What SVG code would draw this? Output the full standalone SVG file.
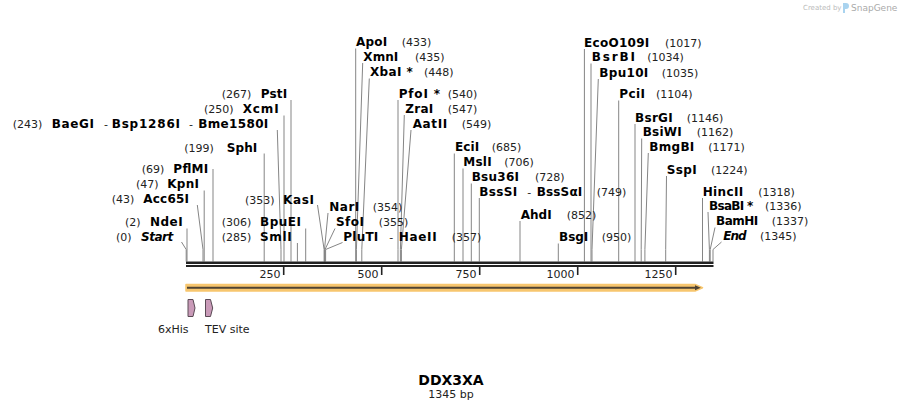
<svg xmlns="http://www.w3.org/2000/svg" width="901" height="411" viewBox="0 0 901 411">
<style>
.n{font-family:"DejaVu Sans",Verdana,sans-serif;font-size:11px;fill:#222}
.b{font-family:"DejaVu Sans",Verdana,sans-serif;font-size:12px;font-weight:bold;fill:#000}
.i{font-style:italic}
.t{font-family:"DejaVu Sans",Verdana,sans-serif;font-size:11px;fill:#222;text-anchor:end}
.c path{fill:none;stroke:#858585;stroke-width:1}
.tick{stroke:#222;stroke-width:1.6}
.feat{fill:#c99ab8;stroke:#5a4a55;stroke-width:1}
</style>
<rect width="901" height="411" fill="#fff"/>
<g id="logo">
<text x="803" y="10" font-family="'DejaVu Sans',sans-serif" font-size="7" fill="#bbb">Created by</text>
<path d="M843,3 h3 a3,3 0 0 1 0,6 h-1 v4 h-2 z" fill="#a9d3ef"/>
<text x="851" y="11" font-family="'DejaVu Sans',sans-serif" font-size="9" fill="#aaa">SnapGene</text>
</g>
<g id="connectors" class="c">
<path d="M181.5,242 L186.2,249.5 V261.5"/>
<path d="M187,228.5 V261.5"/>
<path d="M197.3,205 L203,249.5 V261.5"/>
<path d="M204.2,190.5 V261.5"/>
<path d="M213,169 V261.5"/>
<path d="M264.2,153.5 V261.5"/>
<path d="M277.3,130 L281,249.5 V261.5"/>
<path d="M284,115.5 V261.5"/>
<path d="M291,100 V261.5"/>
<path d="M297.4,243 V261.5"/>
<path d="M305.7,228.5 V261.5"/>
<path d="M317.5,205 L324.1,249.5 V261.5"/>
<path d="M328,213 L324.5,249.5 V261.5"/>
<path d="M335,228.5 L325,249.5 V261.5"/>
<path d="M342.5,242.5 L325.6,249.5 V261.5"/>
<path d="M355.7,48.5 V261.5"/>
<path d="M362.7,63 L356.4,249.5 V261.5"/>
<path d="M369.3,78.5 L361.8,249.5 V261.5"/>
<path d="M398,100 L398,249.5 V261.5"/>
<path d="M404.3,115 L400.4,249.5 V261.5"/>
<path d="M411,130 L401.4,249.5 V261.5"/>
<path d="M454.3,153.5 V261.5"/>
<path d="M463,168.5 V261.5"/>
<path d="M471.3,183.5 V261.5"/>
<path d="M479.3,198 V261.5"/>
<path d="M520,221 V261.5"/>
<path d="M558.3,243.5 V261.5"/>
<path d="M584.4,49 V261.5"/>
<path d="M591,63.5 V261.5"/>
<path d="M598.3,79 L592,249.5 V261.5"/>
<path d="M618.7,100.5 V261.5"/>
<path d="M635,124 V261.5"/>
<path d="M641.7,138.5 L641.2,249.5 V261.5"/>
<path d="M648.3,153 L644.9,249.5 V261.5"/>
<path d="M666.5,176 L665.7,249.5 V261.5"/>
<path d="M702.5,198 V261.5"/>
<path d="M708,212 L709.4,249.5 V261.5"/>
<path d="M715,227.5 L710.2,249.5 V261.5"/>
<path d="M721.5,242 L713,249.5 V261.5"/>
</g>
<g id="backbone">
<rect x="186" y="261.5" width="527.5" height="2.5" fill="#222"/>
<rect x="186" y="265" width="527.5" height="2" fill="#222"/>
<line class="tick" x1="283.7" y1="267" x2="283.7" y2="275"/>
<line class="tick" x1="381.7" y1="267" x2="381.7" y2="275"/>
<line class="tick" x1="479.7" y1="267" x2="479.7" y2="275"/>
<line class="tick" x1="577.7" y1="267" x2="577.7" y2="275"/>
<line class="tick" x1="675.7" y1="267" x2="675.7" y2="275"/>
<text class="t" x="280.5" y="277.5">250</text>
<text class="t" x="378.5" y="277.5">500</text>
<text class="t" x="476.5" y="277.5">750</text>
<text class="t" x="574.5" y="277.5">1000</text>
<text class="t" x="672.5" y="277.5">1250</text>
</g>
<g id="cds">
<path d="M186,284.5 H695 L702.5,287.8 L695,291 H186 Z" fill="#f7c66f" stroke="#f7c66f" stroke-width="1.5" stroke-linejoin="round"/>
<path d="M187,286.8 H695 V285.3 L700.8,287.8 L695,290.3 V288.8 H187 Z" fill="#4f4333"/>
</g>
<g id="f6xHis">
<path class="feat" d="M188,299.5 H193 L195,308 L193,316.5 H188 Z"/>
<text class="n" x="158" y="333">6xHis</text>
</g>
<g id="fTEV">
<path class="feat" d="M205.5,299.5 H210.5 L212.7,308 L210.5,316.5 H205.5 Z"/>
<text class="n" x="205" y="333">TEV site</text>
</g>
<g id="title">
<text x="451" y="385" text-anchor="middle" font-family="'DejaVu Sans',sans-serif" font-size="14" font-weight="bold" fill="#000">DDX3XA</text>
<text x="451" y="398" text-anchor="middle" class="n">1345 bp</text>
</g>
<g id="labels">
<g id="sStart"><text class="n" x="116" y="240.5">(0)</text><text class="b i" x="141" y="240.5" textLength="32.3">Start</text></g>
<g id="sNdeI"><text class="n" x="125" y="226">(2)</text><text class="b" x="150" y="226" textLength="32.7">NdeI</text></g>
<g id="sAcc65I"><text class="n" x="111.7" y="203">(43)</text><text class="b" x="143.3" y="203" textLength="45.7">Acc65I</text></g>
<g id="sKpnI"><text class="n" x="136" y="188">(47)</text><text class="b" x="167.3" y="188" textLength="31.7">KpnI</text></g>
<g id="sPflMI"><text class="n" x="141.7" y="172.5">(69)</text><text class="b" x="173.3" y="172.5" textLength="35">PflMI</text></g>
<g id="sSphI"><text class="n" x="184.3" y="151.5">(199)</text><text class="b" x="226.7" y="151.5" textLength="30.6">SphI</text></g>
<g id="sBme"><text class="n" x="12.7" y="127.5">(243)</text><text class="b" x="51.7" y="127.5" textLength="42.3">BaeGI</text><text class="n" x="104" y="127.5">-</text><text class="b" x="111.7" y="127.5" textLength="68.3">Bsp1286I</text><text class="n" x="189" y="127.5">-</text><text class="b" x="198.3" y="127.5" textLength="70">Bme1580I</text></g>
<g id="sXcmI"><text class="n" x="204" y="113">(250)</text><text class="b" x="242.7" y="113" textLength="36">XcmI</text></g>
<g id="sPstI"><text class="n" x="221.7" y="97.5">(267)</text><text class="b" x="260.7" y="97.5" textLength="26.6">PstI</text></g>
<g id="sSmlI"><text class="n" x="221.7" y="240.5">(285)</text><text class="b" x="260" y="240.5" textLength="31.7">SmlI</text></g>
<g id="sBpuEI"><text class="n" x="221.7" y="226">(306)</text><text class="b" x="260" y="226" textLength="41">BpuEI</text></g>
<g id="sKasI"><text class="n" x="245" y="203.5">(353)</text><text class="b" x="283" y="203.5" textLength="31">KasI</text></g>
<g id="sNarI"><text class="b" x="329.3" y="211" textLength="30">NarI</text><text class="n" x="372.7" y="211">(354)</text></g>
<g id="sSfoI"><text class="b" x="336" y="226" textLength="28">SfoI</text><text class="n" x="378.7" y="226">(355)</text></g>
<g id="sPluTI"><text class="b" x="343.3" y="240.5" textLength="35">PluTI</text><text class="n" x="389.3" y="240.5">-</text><text class="b" x="398.7" y="240.5" textLength="38">HaeII</text><text class="n" x="451.7" y="240.5">(357)</text></g>
<g id="sApoI"><text class="b" x="356" y="46" textLength="31.3">ApoI</text><text class="n" x="401.7" y="46">(433)</text></g>
<g id="sXmnI"><text class="b" x="363.3" y="60.5" textLength="35">XmnI</text><text class="n" x="415" y="60.5">(435)</text></g>
<g id="sXbaI"><text class="b" x="370" y="76" textLength="42.7">XbaI *</text><text class="n" x="424" y="76">(448)</text></g>
<g id="sPfoI"><text class="b" x="398.7" y="97.5" textLength="41.3">PfoI *</text><text class="n" x="447.7" y="97.5">(540)</text></g>
<g id="sZraI"><text class="b" x="405.3" y="112.5" textLength="28">ZraI</text><text class="n" x="447.7" y="112.5">(547)</text></g>
<g id="sAatII"><text class="b" x="412.7" y="127.5" textLength="34.6">AatII</text><text class="n" x="461.7" y="127.5">(549)</text></g>
<g id="sEciI"><text class="b" x="455" y="151" textLength="24.3">EciI</text><text class="n" x="491.7" y="151">(685)</text></g>
<g id="sMslI"><text class="b" x="463.3" y="166" textLength="28.4">MslI</text><text class="n" x="504.3" y="166">(706)</text></g>
<g id="sBsu36I"><text class="b" x="471.7" y="181" textLength="47.3">Bsu36I</text><text class="n" x="535" y="181">(728)</text></g>
<g id="sBssSI"><text class="b" x="479.3" y="195.5" textLength="38">BssSI</text><text class="n" x="527.3" y="195.5">-</text><text class="b" x="536.7" y="195.5" textLength="45.6">BssSαI</text><text class="n" x="596.7" y="195.5">(749)</text></g>
<g id="sAhdI"><text class="b" x="520.7" y="218.5" textLength="31">AhdI</text><text class="n" x="566.7" y="218.5">(852)</text></g>
<g id="sBsgI"><text class="b" x="559" y="241" textLength="29.3">BsgI</text><text class="n" x="601.7" y="241">(950)</text></g>
<g id="sEcoO109I"><text class="b" x="584" y="46.5" textLength="65.3">EcoO109I</text><text class="n" x="665" y="46.5">(1017)</text></g>
<g id="sBsrBI"><text class="b" x="591.7" y="61" textLength="43.3">BsrBI</text><text class="n" x="647.3" y="61">(1034)</text></g>
<g id="sBpu10I"><text class="b" x="599.3" y="76.5" textLength="49">Bpu10I</text><text class="n" x="661.7" y="76.5">(1035)</text></g>
<g id="sPciI"><text class="b" x="619.3" y="98" textLength="25.7">PciI</text><text class="n" x="656" y="98">(1104)</text></g>
<g id="sBsrGI"><text class="b" x="635" y="121.5" textLength="37.7">BsrGI</text><text class="n" x="686.7" y="121.5">(1146)</text></g>
<g id="sBsiWI"><text class="b" x="642.7" y="136" textLength="39">BsiWI</text><text class="n" x="696.7" y="136">(1162)</text></g>
<g id="sBmgBI"><text class="b" x="649.3" y="150.5" textLength="45">BmgBI</text><text class="n" x="708.3" y="150.5">(1171)</text></g>
<g id="sSspI"><text class="b" x="666.7" y="173.5" textLength="30">SspI</text><text class="n" x="711" y="173.5">(1224)</text></g>
<g id="sHincII"><text class="b" x="702.7" y="195.5" textLength="40.6">HincII</text><text class="n" x="758.3" y="195.5">(1318)</text></g>
<g id="sBsaBI"><text class="b" x="709" y="209.5" textLength="44.3">BsaBI *</text><text class="n" x="765" y="209.5">(1336)</text></g>
<g id="sBamHI"><text class="b" x="716" y="225" textLength="42.3">BamHI</text><text class="n" x="771.7" y="225">(1337)</text></g>
<g id="sEnd"><text class="b i" x="723.3" y="239.5" textLength="23.4">End</text><text class="n" x="760" y="239.5">(1345)</text></g>
</g>
</svg>
